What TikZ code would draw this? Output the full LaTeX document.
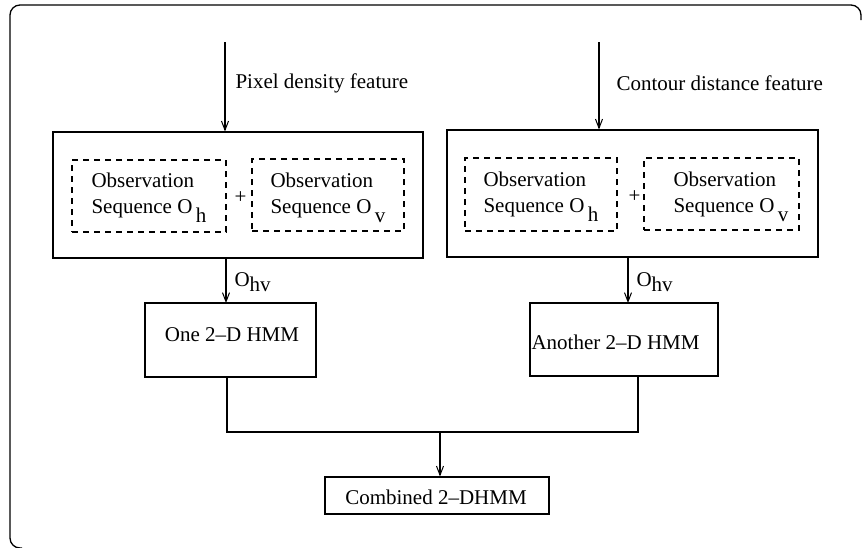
\documentclass[tikz,border=0pt]{standalone}
\usepackage{fontspec}
\setmainfont{Liberation Serif}
\usetikzlibrary{arrows.meta}
\begin{document}
\begin{tikzpicture}[x=1pt,y=-1pt,
  line width=1.1pt,
  txt/.style={font=\fontsize{21}{26.5}\selectfont, inner sep=0pt},
  solidbox/.style={draw, line width=1.1pt, inner sep=0pt},
  dashbox/.style={draw, dash pattern=on 6pt off 5pt, line width=1.1pt, inner sep=0pt},
  arr/.style={-{Straight Barb[length=9pt,width=7pt,line width=1pt]}, line width=1.1pt},
  conn/.style={line width=1.1pt}]
\useasboundingbox (0,0) rectangle (862,547);
% outer frame (its right and bottom sides run along the page edge)
\draw[line width=1.3pt, rounded corners=10pt] (861,20) -- (861,5) -- (10,5) -- (10,548) -- (22,548);

% left branch
\node[solidbox, minimum width=370pt, minimum height=126pt] (L) at (238,195) {};
\node[dashbox, minimum width=154pt, minimum height=72pt] (L1) at (149,196) {};
\node[dashbox, minimum width=152pt, minimum height=72pt] (L2) at (328,195) {};
\node[txt, align=left, anchor=north west] (L1t) at (91,172) {Observation\\Sequence O\,\raisebox{-9pt}{h}};
\node[txt, align=left, anchor=north west] (L2t) at (270,172) {Observation\\Sequence O\,\raisebox{-9pt}{v}};
\node[txt] (Lp) at (240.5,198) {+};
\coordinate (Lin) at (225,42);
\draw[arr] (Lin) -- (Lin |- L.north);
\node[txt, anchor=west] (Llab) at (235,83) {Pixel density feature};

% right branch
\node[solidbox, minimum width=371pt, minimum height=127pt] (R) at (632.5,193.5) {};
\node[dashbox, minimum width=152pt, minimum height=73pt] (R1) at (541,194.5) {};
\node[dashbox, minimum width=155pt, minimum height=72pt] (R2) at (721.5,194) {};
\node[txt, align=left, anchor=north west] (R1t) at (483,171) {Observation\\Sequence O\,\raisebox{-9pt}{h}};
\node[txt, align=left, anchor=north west] (R2t) at (673,171) {Observation\\Sequence O\,\raisebox{-9pt}{v}};
\node[txt] (Rp) at (634.5,197) {+};
\coordinate (Rin) at (599,42);
\draw[arr] (Rin) -- (Rin |- R.north);
\node[txt, anchor=west] (Rlab) at (616,83) {Contour distance feature};

% 2-D HMM boxes
\node[solidbox, minimum width=171pt, minimum height=74pt] (H1) at (230.5,340) {};
\node[txt] (H1t) at (232,335) {One 2--D HMM};
\node[solidbox, minimum width=188pt, minimum height=73pt] (H2) at (624,339.5) {};
\node[txt, anchor=west] (H2t) at (531,342) {Another 2--D HMM};

\draw[arr] (226,258) -- (226,303);
\node[txt, anchor=base west] (O1) at (234,286) {O\raisebox{-5pt}{hv}};
\draw[arr] (628,257) -- (628,303);
\node[txt, anchor=base west] (O2) at (636,286) {O\raisebox{-5pt}{hv}};

% combination
\node[solidbox, minimum width=224pt, minimum height=37pt] (C) at (437,495.5) {};
\node[txt] (Ct) at (436,497) {Combined 2--DHMM};
\coordinate (J) at (440,432);
\draw[conn] (227,377) |- (J) -| (638,376);
\draw[arr] (J) -- (J |- C.north);
\end{tikzpicture}
\end{document}
